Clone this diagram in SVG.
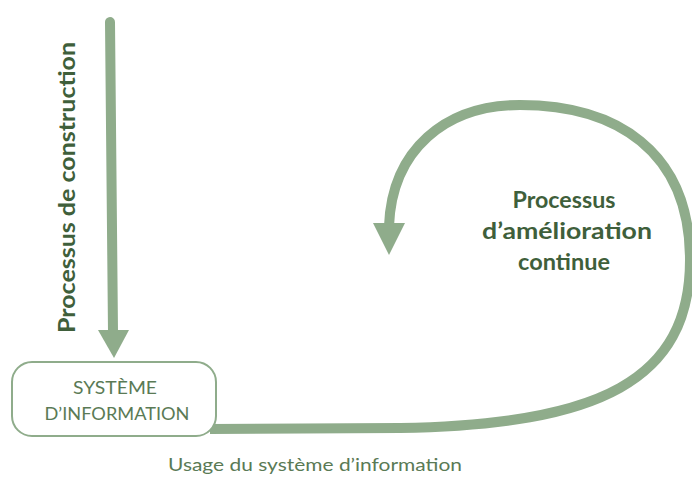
<svg xmlns="http://www.w3.org/2000/svg" width="692" height="477" viewBox="0 0 692 477">
<style>
.conn{fill:none;stroke:#8fac8b;stroke-width:10;stroke-linecap:round}
.head{fill:#8fac8b}
.bold{font-family:Lato,"Open Sans",sans-serif;font-weight:bold;fill:#3f5f3b}
.reg{font-family:Lato,"Open Sans",sans-serif;fill:#5a7a55}
</style>
<rect width="692" height="477" fill="#ffffff"/>
<g id="connectors">
<path class="conn" d="M 110 22 L 113 332"/>
<polygon class="head" points="98,330 129,330 114,358"/>
<path class="conn" style="stroke-linecap:butt" d="M 210 429 L 400 428 C 600 425, 690 380, 690 260 C 690 150, 615 105, 520 105 C 445 105, 392 150, 389 226"/>
<polygon class="head" points="373,223 405,223 389,255"/>
</g>
<g id="node-si">
<rect x="12" y="362" width="204" height="74" rx="20" ry="20" fill="#ffffff" stroke="#8fac8b" stroke-width="2"/>
<text class="reg" x="115" y="394" font-size="17" text-anchor="middle" textLength="84" lengthAdjust="spacingAndGlyphs">SYSTÈME</text>
<text class="reg" x="117" y="420" font-size="17" text-anchor="middle" textLength="145" lengthAdjust="spacingAndGlyphs">D’INFORMATION</text>
</g>
<g id="label-construction">
<text class="bold" transform="translate(75,333) rotate(-90)" font-size="22" textLength="291" lengthAdjust="spacingAndGlyphs">Processus de construction</text>
</g>
<g id="label-amelioration">
<text class="bold" x="564" y="208" font-size="23" text-anchor="middle" textLength="103" lengthAdjust="spacingAndGlyphs">Processus</text>
<text class="bold" x="567" y="239" font-size="23" text-anchor="middle" textLength="170" lengthAdjust="spacingAndGlyphs">d’amélioration</text>
<text class="bold" x="564" y="270" font-size="23" text-anchor="middle" textLength="92" lengthAdjust="spacingAndGlyphs">continue</text>
</g>
<g id="label-usage">
<text class="reg" x="168" y="471" font-size="18" textLength="294" lengthAdjust="spacingAndGlyphs">Usage du système d’information</text>
</g>
</svg>
